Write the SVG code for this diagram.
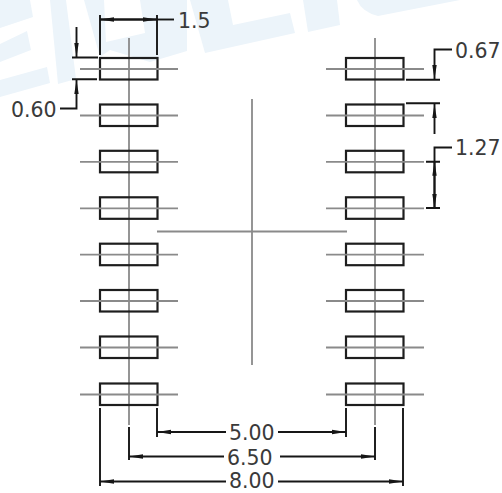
<svg xmlns="http://www.w3.org/2000/svg" width="502" height="493" viewBox="0 0 502 493">
<style>
.c{stroke:#8a8a8a;stroke-width:1.8;fill:none}
.p{stroke:#1e1e1e;stroke-width:2.2;fill:none}
.d{stroke:#161616;stroke-width:1.9;fill:none}
.a{fill:#161616;stroke:none}
.t{font-family:"DejaVu Sans",sans-serif;font-size:20.5px;fill:#3a3a3a}
.w{fill:#ecf4fa}
</style>
<defs>
<g id="pad"><rect class="p" x="-29" y="-11" width="57.5" height="21.500"/><path class="c" d="M-49 0H49"/></g>
<marker id="ah" viewBox="0 0 14 6" refX="14" refY="3" markerWidth="14" markerHeight="6" orient="auto-start-reverse" markerUnits="userSpaceOnUse"><path class="a" d="M0 0.800L14 3L0 5.200Z"/></marker>
</defs>
<rect width="502" height="493" fill="#fff"/>
<g id="watermark">
<path class="w" d="M0 0H30L33 17L0 28Z"/>
<path class="w" d="M0 44L27 31L31 50L0 62Z"/>
<path class="w" d="M0 80L47 67L50 83L0 97Z"/>
<path class="w" d="M50 0H66L76 79L58 84Z"/>
<path class="w" d="M84 0H104L106 42L145 33L140 0H187L187 51L150 62L110 50L100 57Z"/>
<path class="w" d="M190 0H228L233 25L290 13L295 33L205 53Z"/>
<path class="w" d="M303 0H337L340 25L308 32Z"/>
<path class="w" d="M357 0Q362 12 378 16L460 0Z"/>
</g>
<g id="centerlines">
<path class="c" d="M129 38V425M375 38V425M252 99V365M157 231.500H347"/>
</g>
<g id="left-pads">
<use href="#pad" x="129" y="69"/><use href="#pad" x="129" y="115.500"/><use href="#pad" x="129" y="161.800"/><use href="#pad" x="129" y="208.300"/><use href="#pad" x="129" y="254.700"/><use href="#pad" x="129" y="301"/><use href="#pad" x="129" y="347.500"/><use href="#pad" x="129" y="394.500"/>
</g>
<g id="right-pads">
<use href="#pad" x="375" y="69"/><use href="#pad" x="375" y="115.500"/><use href="#pad" x="375" y="161.800"/><use href="#pad" x="375" y="208.300"/><use href="#pad" x="375" y="254.700"/><use href="#pad" x="375" y="301"/><use href="#pad" x="375" y="347.500"/><use href="#pad" x="375" y="394.500"/>
</g>
<g id="connectors">
<path class="d" d="M100 15V55M157 15V55"/>
<path class="d" d="M157 19.500H100" marker-end="url(#ah)"/>
<path class="d" d="M100 19.500H157" marker-end="url(#ah)"/>
<path class="d" d="M157 19.500H174"/>
<path class="d" d="M72 57.500H98M72 79.300H97"/>
<path class="d" d="M76.500 27V57" marker-end="url(#ah)"/>
<path class="d" d="M60 108.500H76.500V80" marker-end="url(#ah)"/>
<path class="d" d="M406 79.700H440M406 103.300H440"/>
<path class="d" d="M452 49.500H434.500V79" marker-end="url(#ah)"/>
<path class="d" d="M434.500 134V104" marker-end="url(#ah)"/>
<path class="d" d="M426 161.700H440M426 208H440"/>
<path class="d" d="M452 147.500H434.500V161"/>
<path class="d" d="M434.500 161.700V208" marker-end="url(#ah)"/>
<path class="d" d="M434.500 208V161.700" marker-end="url(#ah)"/>
<path class="d" d="M157 408V437M346 408V437M129 427V460M375 427V460M100 408V486M403 408V486"/>
<path class="d" d="M226 432H157" marker-end="url(#ah)"/>
<path class="d" d="M278 432H346" marker-end="url(#ah)"/>
<path class="d" d="M224 456.500H129" marker-end="url(#ah)"/>
<path class="d" d="M280 456.500H375" marker-end="url(#ah)"/>
<path class="d" d="M226 481.500H100" marker-end="url(#ah)"/>
<path class="d" d="M278 481.500H403" marker-end="url(#ah)"/>
</g>
<g id="labels">
<text class="t" x="178" y="28">1.5</text>
<text class="t" x="11" y="117">0.60</text>
<text class="t" x="455" y="58">0.67</text>
<text class="t" x="455" y="155">1.27</text>
<text class="t" x="229" y="440">5.00</text>
<text class="t" x="227" y="465">6.50</text>
<text class="t" x="229" y="488">8.00</text>
</g>
</svg>
